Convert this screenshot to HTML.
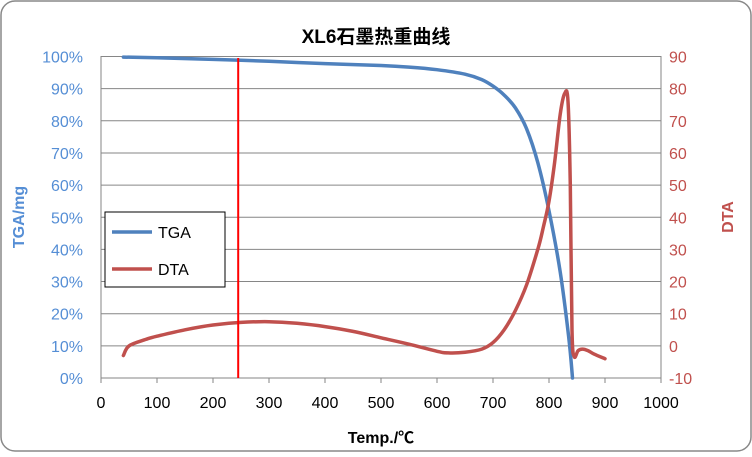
<!DOCTYPE html>
<html><head><meta charset="utf-8"><style>
body{margin:0;background:#fff;font-family:"Liberation Sans","Noto Sans CJK SC",sans-serif}
</style></head><body>
<svg id="c" width="752" height="452" xmlns="http://www.w3.org/2000/svg"></svg>
<script>
const xTicks=[0,100,200,300,400,500,600,700,800,900,1000];
const yLTicks=[0,10,20,30,40,50,60,70,80,90,100];
const yRTicks=[-10,0,10,20,30,40,50,60,70,80,90];
const tgaX=[40,100,200,300,400,500,550,600,650,680,700,720,740,760,780,800,820,835,842];
const tgaY=[99.8,99.6,99.1,98.5,97.8,97.2,96.7,95.9,94.5,92.8,90.8,88,84,77.5,67,52,33,13,0];
const dtaX=[40,50,80,100,150,200,250,300,350,400,450,500,550,600,620,650,680,700,720,740,760,780,790,800,810,820,828,834,838,841,845,852,860,870,880,900];
const dtaY=[-3,0,2,3,5,6.5,7.3,7.5,7,6,4.5,2.5,0.5,-1.7,-2.2,-2,-1,1,5,11,19,30,37,45,57,72,78.5,76,50,5,-3.3,-1.5,-1,-1.5,-2.5,-4];
const markerX=245;
const L=101,R=661,T=56.5,B=378;
const sx=v=>L+(v-0)/1000*(R-L);
const syL=v=>B-v/100*(B-T);
const syR=v=>B-(v+10)/100*(B-T);
const svg=document.getElementById('c');const NS='http://www.w3.org/2000/svg';
function mk(t,a,txt){const e=document.createElementNS(NS,t);for(const k in a)e.setAttribute(k,a[k]);if(txt!=null)e.textContent=txt;svg.appendChild(e);return e;}
let e=mk('rect',{x:1,y:1,width:750,height:450,rx:14,fill:'#fff',stroke:'#888','stroke-width':1.5});


e=mk('text',{x:376,y:43,'text-anchor':'middle','font-size':19,'font-weight':'bold',fill:'#000'},'XL6石墨热重曲线');


yLTicks.forEach((v,i)=>{const y=syL(v);
 let g=mk('line',{x1:L,x2:R,y1:y,y2:y,stroke:'#868686','stroke-width':1});
 
 
 let t=mk('text',{x:83,y:y+6,'text-anchor':'end','font-size':16,fill:'#558ED5'},v+'%');
 
 
 let r=mk('text',{x:669,y:syR(yRTicks[i])+6,'text-anchor':'start','font-size':16,fill:'#C0504D'},yRTicks[i]);
 
 
});
e=mk('rect',{x:L,y:T,width:R-L,height:B-T,fill:'none',stroke:'#868686'});


xTicks.forEach(v=>{const x=sx(v);
 let l=mk('line',{x1:x,x2:x,y1:B,y2:B+5,stroke:'#868686'});
 
 
 let t=mk('text',{x:x,y:B+30,'text-anchor':'middle','font-size':16,fill:'#000'},v);
 
 
});
e=mk('text',{x:381,y:443,'text-anchor':'middle','font-size':16,'font-weight':'bold'},'Temp./℃');


e=mk('text',{x:24,y:217,'text-anchor':'middle','font-size':16,'font-weight':'bold',fill:'#558ED5',transform:'rotate(-90 24 217)'},'TGA/mg');


e=mk('text',{x:733,y:217,'text-anchor':'middle','font-size':16,'font-weight':'bold',fill:'#C0504D',transform:'rotate(-90 733 217)'},'DTA');


function path(xs,ys,f){
 const p=xs.map((x,i)=>[sx(x),f(ys[i])]);
 let d='M'+p[0][0].toFixed(1)+','+p[0][1].toFixed(1);
 const k=0.17;
 for(let i=0;i<p.length-1;i++){
  const p0=p[Math.max(0,i-1)],p1=p[i],p2=p[i+1],p3=p[Math.min(p.length-1,i+2)];
  const c1=[p1[0]+(p2[0]-p0[0])*k,p1[1]+(p2[1]-p0[1])*k];
  const c2=[p2[0]-(p3[0]-p1[0])*k,p2[1]-(p3[1]-p1[1])*k];
  d+=' C'+c1.map(v=>v.toFixed(1)).join(',')+' '+c2.map(v=>v.toFixed(1)).join(',')+' '+p2[0].toFixed(1)+','+p2[1].toFixed(1);
 }
 return d;}
e=mk('path',{d:path(tgaX,tgaY,syL),fill:'none',stroke:'#4F81BD','stroke-width':3.5,'stroke-linejoin':'round','stroke-linecap':'round'});


e=mk('path',{d:path(dtaX,dtaY,syR),fill:'none',stroke:'#C0504D','stroke-width':3.5,'stroke-linejoin':'round','stroke-linecap':'round'});


e=mk('line',{x1:sx(markerX),x2:sx(markerX),y1:58,y2:B,stroke:'#FF0000','stroke-width':2});


e=mk('rect',{x:105,y:212,width:120,height:75,fill:'#fff',stroke:'#000','stroke-width':1});


e=mk('line',{x1:112,x2:152,y1:232,y2:232,stroke:'#4F81BD','stroke-width':3.5});


e=mk('text',{x:158,y:238,'font-size':16},'TGA');


e=mk('line',{x1:112,x2:152,y1:269,y2:269,stroke:'#C0504D','stroke-width':3.5});


e=mk('text',{x:158,y:275,'font-size':16},'DTA');


</script>
</body></html>
